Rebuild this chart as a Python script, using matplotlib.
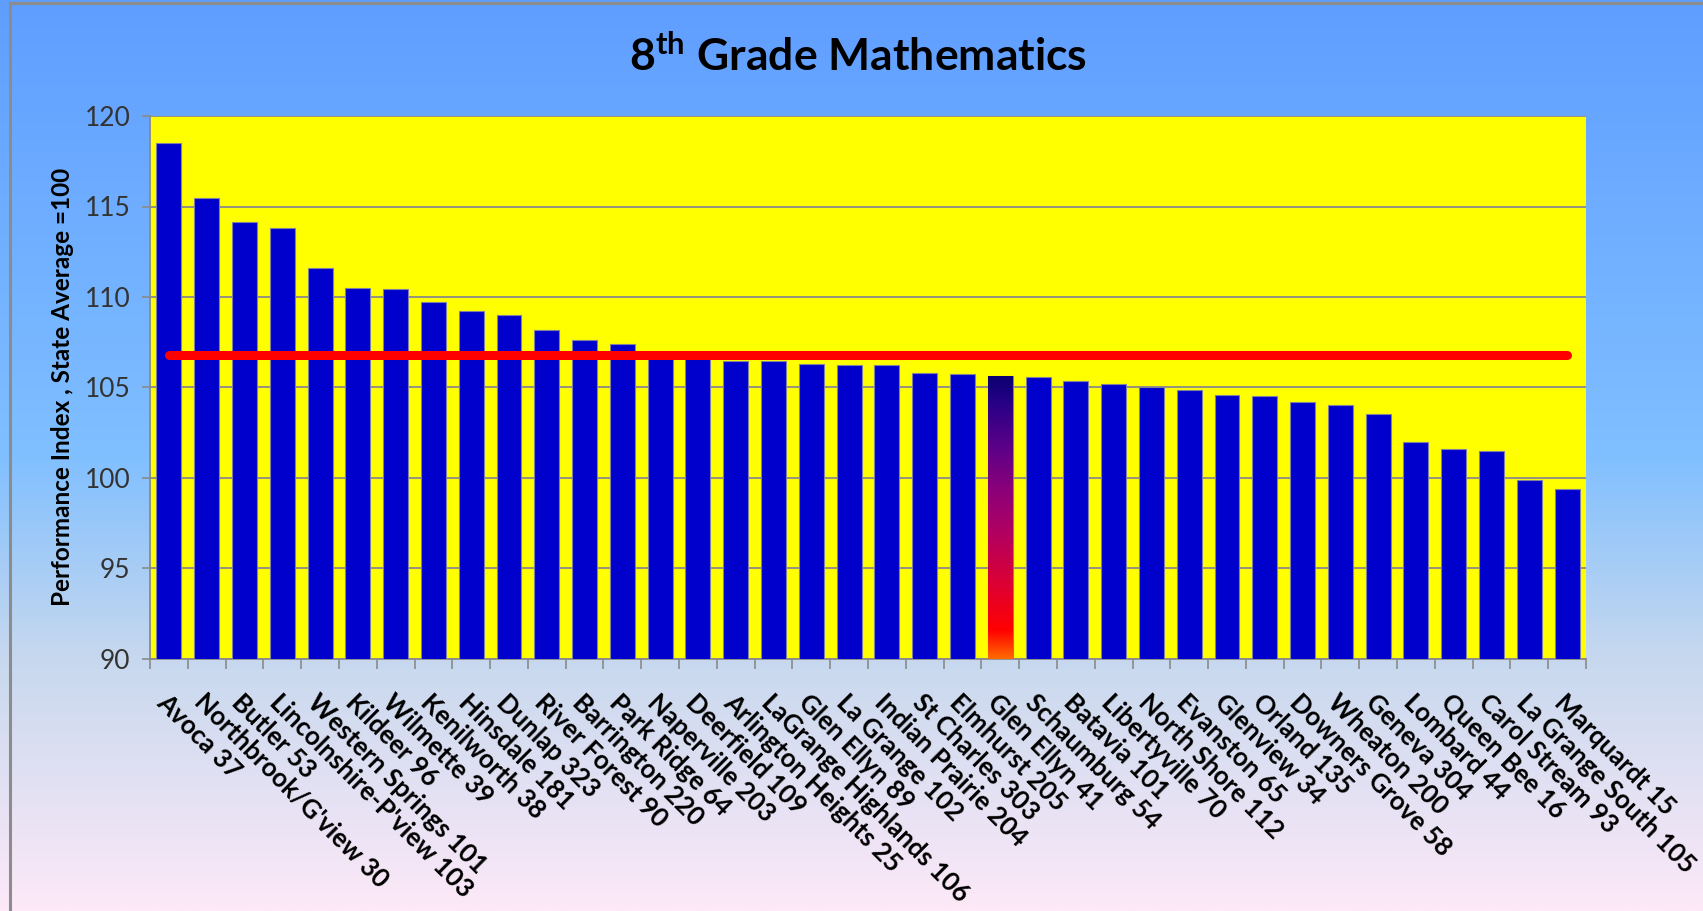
import numpy as np
import matplotlib
matplotlib.use("Agg")
import matplotlib.pyplot as plt
from matplotlib.colors import LinearSegmentedColormap
from matplotlib.patches import Rectangle
from matplotlib.lines import Line2D

# ---------------- data ----------------
districts = [
    "Avoca 37", "Northbrook/G'view 30", "Butler 53", "Lincolnshire-P'view 103",
    "Western Springs 101", "Kildeer 96", "Wilmette 39", "Kenilworth 38",
    "Hinsdale 181", "Dunlap 323", "River Forest 90", "Barrington 220",
    "Park Ridge 64", "Naperville 203", "Deerfield 109", "Arlington Heights 25",
    "LaGrange Highlands 106", "Glen Ellyn 89", "La Grange 102", "Indian Prairie 204",
    "St Charles 303", "Elmhurst 205", "Glen Ellyn 41", "Schaumburg 54",
    "Batavia 101", "Libertyville 70", "North Shore 112", "Evanston 65",
    "Glenview 34", "Orland 135", "Downers Grove 58", "Wheaton 200",
    "Geneva 304", "Lombard 44", "Queen Bee 16", "Carol Stream 93",
    "La Grange South 105", "Marquardt 15",
]
scores = [
    118.5, 115.45, 114.15, 113.8,
    111.6, 110.5, 110.45, 109.7,
    109.2, 109.0, 108.15, 107.65,
    107.4, 106.9, 106.7, 106.45,
    106.45, 106.32, 106.22, 106.22,
    105.82, 105.73, 105.66, 105.6,
    105.38, 105.17, 105.05, 104.85,
    104.6, 104.54, 104.18, 104.05,
    103.55, 102.0, 101.58, 101.5,
    99.9, 99.4,
]
reference_value = 106.8
highlight = "Glen Ellyn 41"
y_ticks = [90, 95, 100, 105, 110, 115, 120]
title_text = r"8$^{\mathbf{th}}$ Grade Mathematics"
y_label = "Performance Index , State Average =100"

# ---------------- style ----------------
plt.rcParams["font.family"] = ["Lato", "DejaVu Sans"]
plt.rcParams["mathtext.fontset"] = "custom"
plt.rcParams["mathtext.rm"] = "Lato"
plt.rcParams["mathtext.bf"] = "Lato:bold"

W, H = 1703, 911
fig = plt.figure(figsize=(W / 100, H / 100), dpi=100)

# background gradient
bg = fig.add_axes([0, 0, 1, 1], zorder=-10)
bg_cmap = LinearSegmentedColormap.from_list(
    "bg",
    [(0.0, "#5f9eff"), (0.5, "#80bfff"), (0.72, "#c6d8ee"), (1.0, "#fde9f8")],
)
grad = np.linspace(0, 1, 512).reshape(-1, 1)
bg.imshow(grad, aspect="auto", cmap=bg_cmap, extent=[0, 1, 0, 1], origin="upper")
bg.set_xlim(0, 1)
bg.set_ylim(0, 1)
bg.axis("off")
# frame lines (left and top)
fig.add_artist(Line2D([10 / W, 10 / W], [0, 1 - 3 / H], color="#8c8c8c", lw=2.2))
fig.add_artist(Line2D([10 / W, 1], [1 - 3 / H, 1 - 3 / H], color="#8c8c8c", lw=2.2))

# main axes
left, right, top, bottom = 150, 1586, 116, 659
ax = fig.add_axes([left / W, 1 - bottom / H, (right - left) / W, (bottom - top) / H])
ax.set_facecolor("#ffff00")

x = np.arange(len(districts))
colors = ["#0000cc" if d != highlight else "none" for d in districts]
bars = ax.bar(x, scores, width=0.66, color=colors, edgecolor="#8080a0",
              linewidth=0.8, zorder=3)

# gradient bar for highlight
hcmap = LinearSegmentedColormap.from_list(
    "hl",
    [(0.0, "#ff6a00"), (0.1, "#ff0000"), (0.25, "#e00030"), (0.45, "#b00062"),
     (0.6, "#8a007a"), (0.75, "#5a0088"), (0.9, "#280086"), (1.0, "#0a0070")],
)
hi = districts.index(highlight)
b = bars[hi]
hg = np.linspace(0, 1, 256).reshape(-1, 1)
im = ax.imshow(hg, aspect="auto", cmap=hcmap, origin="lower",
               extent=[b.get_x(), b.get_x() + b.get_width(), 90, scores[hi]],
               zorder=3.5)
clip = Rectangle((b.get_x(), 0), b.get_width(), scores[hi], transform=ax.transData)
im.set_clip_path(clip)

# reference line
ax.plot([x[0], x[-1]], [reference_value] * 2, color="#ff0000", lw=6.5,
        solid_capstyle="round", zorder=5)

ax.set_xlim(-0.5, len(districts) - 0.5)
ax.set_ylim(90, 120)
ax.set_yticks(y_ticks)
ax.set_yticklabels([str(v) for v in y_ticks], fontsize=19, color="#333333")
ax.yaxis.grid(True, color="#8a8a8a", lw=1.3, zorder=1)
ax.set_axisbelow(True)
ax.tick_params(axis="y", length=6, width=1.2, color="#8a8a8a", pad=8)

ax.set_xticks(x)
ax.set_xticklabels(districts, rotation=-45, ha="left", va="top",
                   rotation_mode="anchor", fontsize=18.5, fontweight="bold")
ax.tick_params(axis="x", which="major", length=0, pad=22)
ax.set_xticks(np.arange(-0.5, len(districts), 1.0), minor=True)
ax.tick_params(axis="x", which="minor", length=7, width=1.2, color="#8a8a8a")

for s in ["top", "right"]:
    ax.spines[s].set_visible(False)
for s in ["left", "bottom"]:
    ax.spines[s].set_color("#8a8a8a")
    ax.spines[s].set_linewidth(1.3)

fig.text(858 / W, 1 - 56 / H, title_text, ha="center", va="center",
         fontsize=32, fontweight="bold")
fig.text(63 / W, 1 - 387 / H, y_label, ha="center", va="center",
         rotation=90, fontsize=17.5, fontweight="bold")

fig.savefig("out.png", dpi=100)
